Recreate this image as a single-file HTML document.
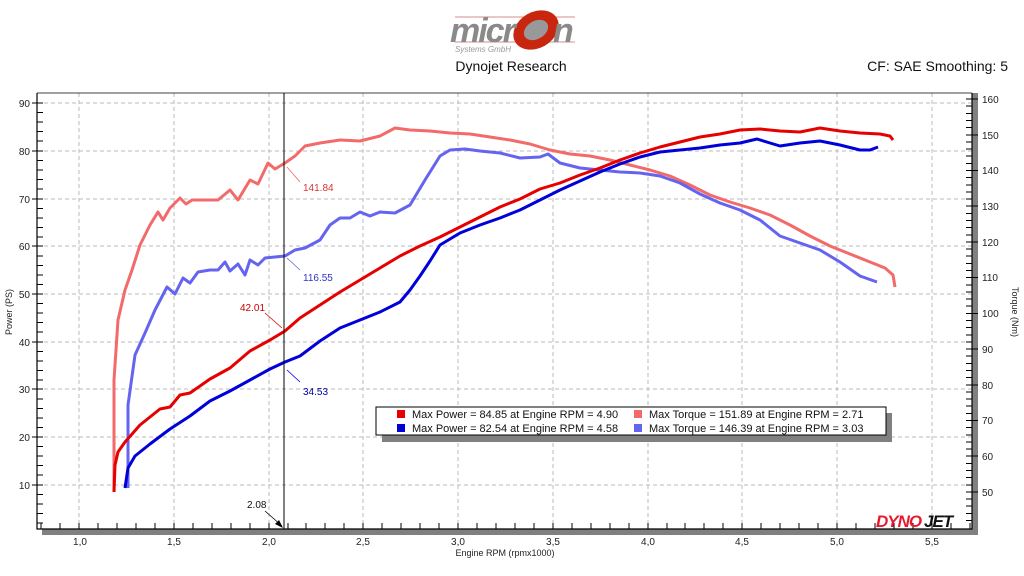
<!DOCTYPE html>
<html><head><meta charset="utf-8"><style>
body{margin:0;background:#fff;}
svg{display:block;font-family:"Liberation Sans",sans-serif;}
</style></head><body>
<svg width="1024" height="576" viewBox="0 0 1024 576" xmlns="http://www.w3.org/2000/svg">
<!-- header logo -->
<line x1="455" y1="17" x2="575" y2="17" stroke="#c66" stroke-width="0.7"/>
<line x1="455" y1="42" x2="575" y2="42" stroke="#c66" stroke-width="0.7"/>
<ellipse cx="536" cy="30" rx="24" ry="18" fill="#c8260e" transform="rotate(-30 536 30)"/>
<ellipse cx="536" cy="30" rx="13" ry="9" fill="#999" transform="rotate(-30 536 30)"/>
<text x="450" y="42" font-size="34" font-weight="bold" font-style="italic" fill="#8a8a8a" letter-spacing="-2">micr</text>
<text x="553" y="42" font-size="34" font-weight="bold" font-style="italic" fill="#8a8a8a">n</text>
<text x="455" y="52" font-size="8" font-style="italic" fill="#999">Systems GmbH</text>
<text x="511" y="71" font-size="14" text-anchor="middle" fill="#111">Dynojet Research</text>
<text x="1008" y="71" font-size="14" text-anchor="end" fill="#111">CF: SAE Smoothing: 5</text>

<!-- shadows -->
<rect x="42" y="529" width="936" height="6" fill="#808080"/>
<rect x="972" y="93" width="6" height="442" fill="#808080"/>

<!-- grid -->
<g stroke="#bbb" stroke-dasharray="4,3" stroke-width="1">
<line x1="79" y1="93" x2="79" y2="529"/><line x1="174" y1="93" x2="174" y2="529"/><line x1="269" y1="93" x2="269" y2="529"/><line x1="363" y1="93" x2="363" y2="529"/><line x1="458" y1="93" x2="458" y2="529"/><line x1="553" y1="93" x2="553" y2="529"/><line x1="648" y1="93" x2="648" y2="529"/><line x1="742" y1="93" x2="742" y2="529"/><line x1="837" y1="93" x2="837" y2="529"/><line x1="932" y1="93" x2="932" y2="529"/>
<line x1="37" y1="103" x2="972" y2="103"/><line x1="37" y1="151" x2="972" y2="151"/><line x1="37" y1="199" x2="972" y2="199"/><line x1="37" y1="246" x2="972" y2="246"/><line x1="37" y1="294" x2="972" y2="294"/><line x1="37" y1="342" x2="972" y2="342"/><line x1="37" y1="389" x2="972" y2="389"/><line x1="37" y1="437" x2="972" y2="437"/><line x1="37" y1="485" x2="972" y2="485"/>
</g>

<!-- axes -->
<g stroke="#000" stroke-width="1.2" fill="none">
<polyline points="37,93 37,529 972,529 972,93"/>
<line x1="37" y1="93" x2="972" y2="93" stroke-width="0.8"/>
</g>
<g stroke="#000" stroke-width="1" id="ticks">
<!-- left ticks -->
<path d="M37 103h6M37 112.5h6M37 122h6M37 131.5h6M37 141h6M37 151h6M37 160.5h6M37 170h6M37 179.5h6M37 189h6M37 199h6M37 208.5h6M37 218h6M37 227.5h6M37 237h6M37 246h6M37 256h6M37 265.5h6M37 275h6M37 284.5h6M37 294h6M37 303.5h6M37 313h6M37 322.5h6M37 332h6M37 342h6M37 351.5h6M37 361h6M37 370.5h6M37 380h6M37 389h6M37 399h6M37 408.5h6M37 418h6M37 427.5h6M37 437h6M37 446.5h6M37 456h6M37 465.5h6M37 475h6M37 485h6M37 494.5h6M37 504h6M37 513.5h6M37 523h6"/>
<path d="M32 103h5M32 151h5M32 199h5M32 246h5M32 294h5M32 342h5M32 389h5M32 437h5M32 485h5"/>
<!-- bottom ticks -->
<path d="M41 529v-6M60 529v-6M79 529v-6M98 529v-6M117 529v-6M136 529v-6M155 529v-6M174 529v-6M193 529v-6M212 529v-6M231 529v-6M250 529v-6M269 529v-6M288 529v-6M306 529v-6M325 529v-6M344 529v-6M363 529v-6M382 529v-6M401 529v-6M420 529v-6M439 529v-6M458 529v-6M477 529v-6M496 529v-6M515 529v-6M534 529v-6M553 529v-6M572 529v-6M591 529v-6M610 529v-6M629 529v-6M648 529v-6M667 529v-6M685 529v-6M704 529v-6M723 529v-6M742 529v-6M761 529v-6M780 529v-6M799 529v-6M818 529v-6M837 529v-6M856 529v-6M875 529v-6M894 529v-6M913 529v-6M932 529v-6M951 529v-6M970 529v-6"/>
<!-- right ticks -->
<path d="M972 99h-6M972 106h-6M972 113.5h-6M972 120.5h-6M972 127.5h-6M972 135h-6M972 142h-6M972 149h-6M972 156h-6M972 163.5h-6M972 170.5h-6M972 177.5h-6M972 185h-6M972 192h-6M972 199h-6M972 206h-6M972 213.5h-6M972 220.5h-6M972 227.5h-6M972 235h-6M972 242h-6M972 249h-6M972 256h-6M972 263.5h-6M972 270.5h-6M972 277.5h-6M972 285h-6M972 292h-6M972 299h-6M972 306h-6M972 313.5h-6M972 320.5h-6M972 327.5h-6M972 335h-6M972 342h-6M972 349h-6M972 356h-6M972 363.5h-6M972 370.5h-6M972 377.5h-6M972 385h-6M972 392h-6M972 399h-6M972 406h-6M972 413.5h-6M972 420.5h-6M972 427.5h-6M972 435h-6M972 442h-6M972 449h-6M972 456h-6M972 463.5h-6M972 470.5h-6M972 477.5h-6M972 485h-6M972 492h-6M972 499h-6M972 506h-6M972 513.5h-6M972 520.5h-6"/>
<path d="M972 99h6M972 135h6M972 170.5h6M972 206h6M972 242h6M972 277.5h6M972 313.5h6M972 349h6M972 385h6M972 420.5h6M972 456h6M972 492h6"/>
</g>

<g font-size="10" fill="#222">
<g text-anchor="end">
<text x="30" y="107">90</text><text x="30" y="155">80</text><text x="30" y="203">70</text><text x="30" y="250">60</text><text x="30" y="298">50</text><text x="30" y="346">40</text><text x="30" y="393">30</text><text x="30" y="441">20</text><text x="30" y="489">10</text>
</g>
<g text-anchor="start">
<text x="982" y="103">160</text><text x="982" y="139">150</text><text x="982" y="174">140</text><text x="982" y="210">130</text><text x="982" y="246">120</text><text x="982" y="281">110</text><text x="982" y="317">100</text><text x="982" y="353">90</text><text x="982" y="389">80</text><text x="982" y="424">70</text><text x="982" y="460">60</text><text x="982" y="496">50</text>
</g>
<g text-anchor="middle">
<text x="80" y="545">1,0</text><text x="174" y="545">1,5</text><text x="269" y="545">2,0</text><text x="363" y="545">2,5</text><text x="458" y="545">3,0</text><text x="553" y="545">3,5</text><text x="648" y="545">4,0</text><text x="742" y="545">4,5</text><text x="837" y="545">5,0</text><text x="932" y="545">5,5</text>
</g>
<text x="505" y="556" text-anchor="middle" font-size="9">Engine RPM (rpmx1000)</text>
<text transform="translate(12,312) rotate(-90)" text-anchor="middle" font-size="9">Power (PS)</text>
<text transform="translate(1012,312) rotate(90)" text-anchor="middle" font-size="9">Torque (Nm)</text>
</g>

<!-- series -->
<g fill="none" stroke-width="3" stroke-linejoin="round">
<polyline stroke="#f26a6a" points="114,492 114,380 118,320 125,290 132,270 140,245 150,225 158,212 163,220 170,208 180,198 186,204 192,200 200,200 218,200 230,190 238,200 250,180 258,184 268,163 275,169 285,163 295,156 305,146 320,143 340,140 360,141 380,136 395,128 410,130 430,131 450,133 470,134 490,137 510,140 530,144 550,150 570,154 590,156 610,160 630,165 650,170 670,176 690,185 710,195 730,202 750,208 770,215 790,225 810,236 830,246 850,254 870,262 885,268 893,275 895,287"/>
<polyline stroke="#6464f0" points="128,488 128,405 135,355 145,333 155,310 167,287 175,294 183,278 190,283 198,272 210,270 218,270 225,262 230,271 238,264 245,275 250,260 258,265 265,258 275,257 285,256 295,250 305,248 320,240 330,225 340,218 350,218 360,212 370,216 380,212 395,213 410,205 425,180 440,156 450,150 465,149 480,151 500,153 520,158 540,157 548,154 560,163 580,168 600,170 620,172 640,173 660,176 680,183 700,194 720,203 740,210 760,220 780,236 800,243 820,250 840,262 860,276 877,282"/>
<polyline stroke="#e60000" points="114,492 115,465 118,452 125,442 140,425 160,409 170,407 180,395 190,393 210,379 230,368 250,351 270,340 285,331 300,318 320,305 340,292 360,280 380,268 400,256 420,246 440,237 460,227 480,217 500,207 520,199 540,189 560,183 580,175 600,168 620,160 640,153 660,147 680,142 700,137 720,134 740,130 760,129 780,131 800,132 820,128 840,131 860,133 880,134 890,136 893,140"/>
<polyline stroke="#0000d8" points="125,488 128,468 135,456 150,444 170,429 190,416 210,401 230,391 250,380 270,369 285,362 300,356 320,341 340,328 360,320 380,312 400,302 410,290 420,276 430,261 440,245 460,233 480,225 500,218 520,210 540,200 560,190 580,181 600,172 620,164 640,157 660,152 680,150 700,148 720,145 740,143 757,139 770,143 780,146 800,143 820,141 840,145 860,150 870,150 878,147"/>
</g>

<!-- cursor -->
<line x1="284" y1="93" x2="284" y2="529" stroke="#000" stroke-width="1"/>
<g stroke-width="0.8" font-size="10">
<line x1="300" y1="182" x2="287" y2="167" stroke="#e66"/><text x="303" y="191" fill="#d33">141.84</text>
<line x1="300" y1="270" x2="287" y2="258" stroke="#66d"/><text x="303" y="281" fill="#33c">116.55</text>
<line x1="265" y1="313" x2="282" y2="328" stroke="#d00"/><text x="240" y="311" fill="#c00">42.01</text>
<line x1="300" y1="382" x2="287" y2="370" stroke="#00c"/><text x="303" y="395" fill="#00a">34.53</text>
<line x1="265" y1="511" x2="282" y2="526" stroke="#000"/><polygon points="283,528 275,524 279,520" fill="#000"/><text x="247" y="508" fill="#111">2.08</text>
</g>

<!-- legend -->
<rect x="382" y="413" width="510" height="29" fill="#808080"/>
<rect x="376" y="407" width="510" height="28" fill="#fff" stroke="#000" stroke-width="1"/>
<rect x="397" y="410" width="8" height="8" fill="#e60000"/>
<rect x="397" y="424" width="8" height="8" fill="#0000d8"/>
<rect x="634" y="410" width="8" height="8" fill="#f26a6a"/>
<rect x="634" y="424" width="8" height="8" fill="#6464f0"/>
<g font-size="11" fill="#111">
<text x="412" y="418">Max Power = 84.85 at Engine RPM = 4.90</text>
<text x="412" y="432">Max Power = 82.54 at Engine RPM = 4.58</text>
<text x="649" y="418">Max Torque = 151.89 at Engine RPM = 2.71</text>
<text x="649" y="432">Max Torque = 146.39 at Engine RPM = 3.03</text>
</g>

<!-- dynojet logo -->
<text x="876" y="527" font-size="17" font-weight="bold" font-style="italic" fill="#e8192c" letter-spacing="-1">DYNO</text>
<text x="924" y="527" font-size="17" font-weight="bold" font-style="italic" fill="#111" letter-spacing="-1">JET</text>
</svg>
</body></html>
